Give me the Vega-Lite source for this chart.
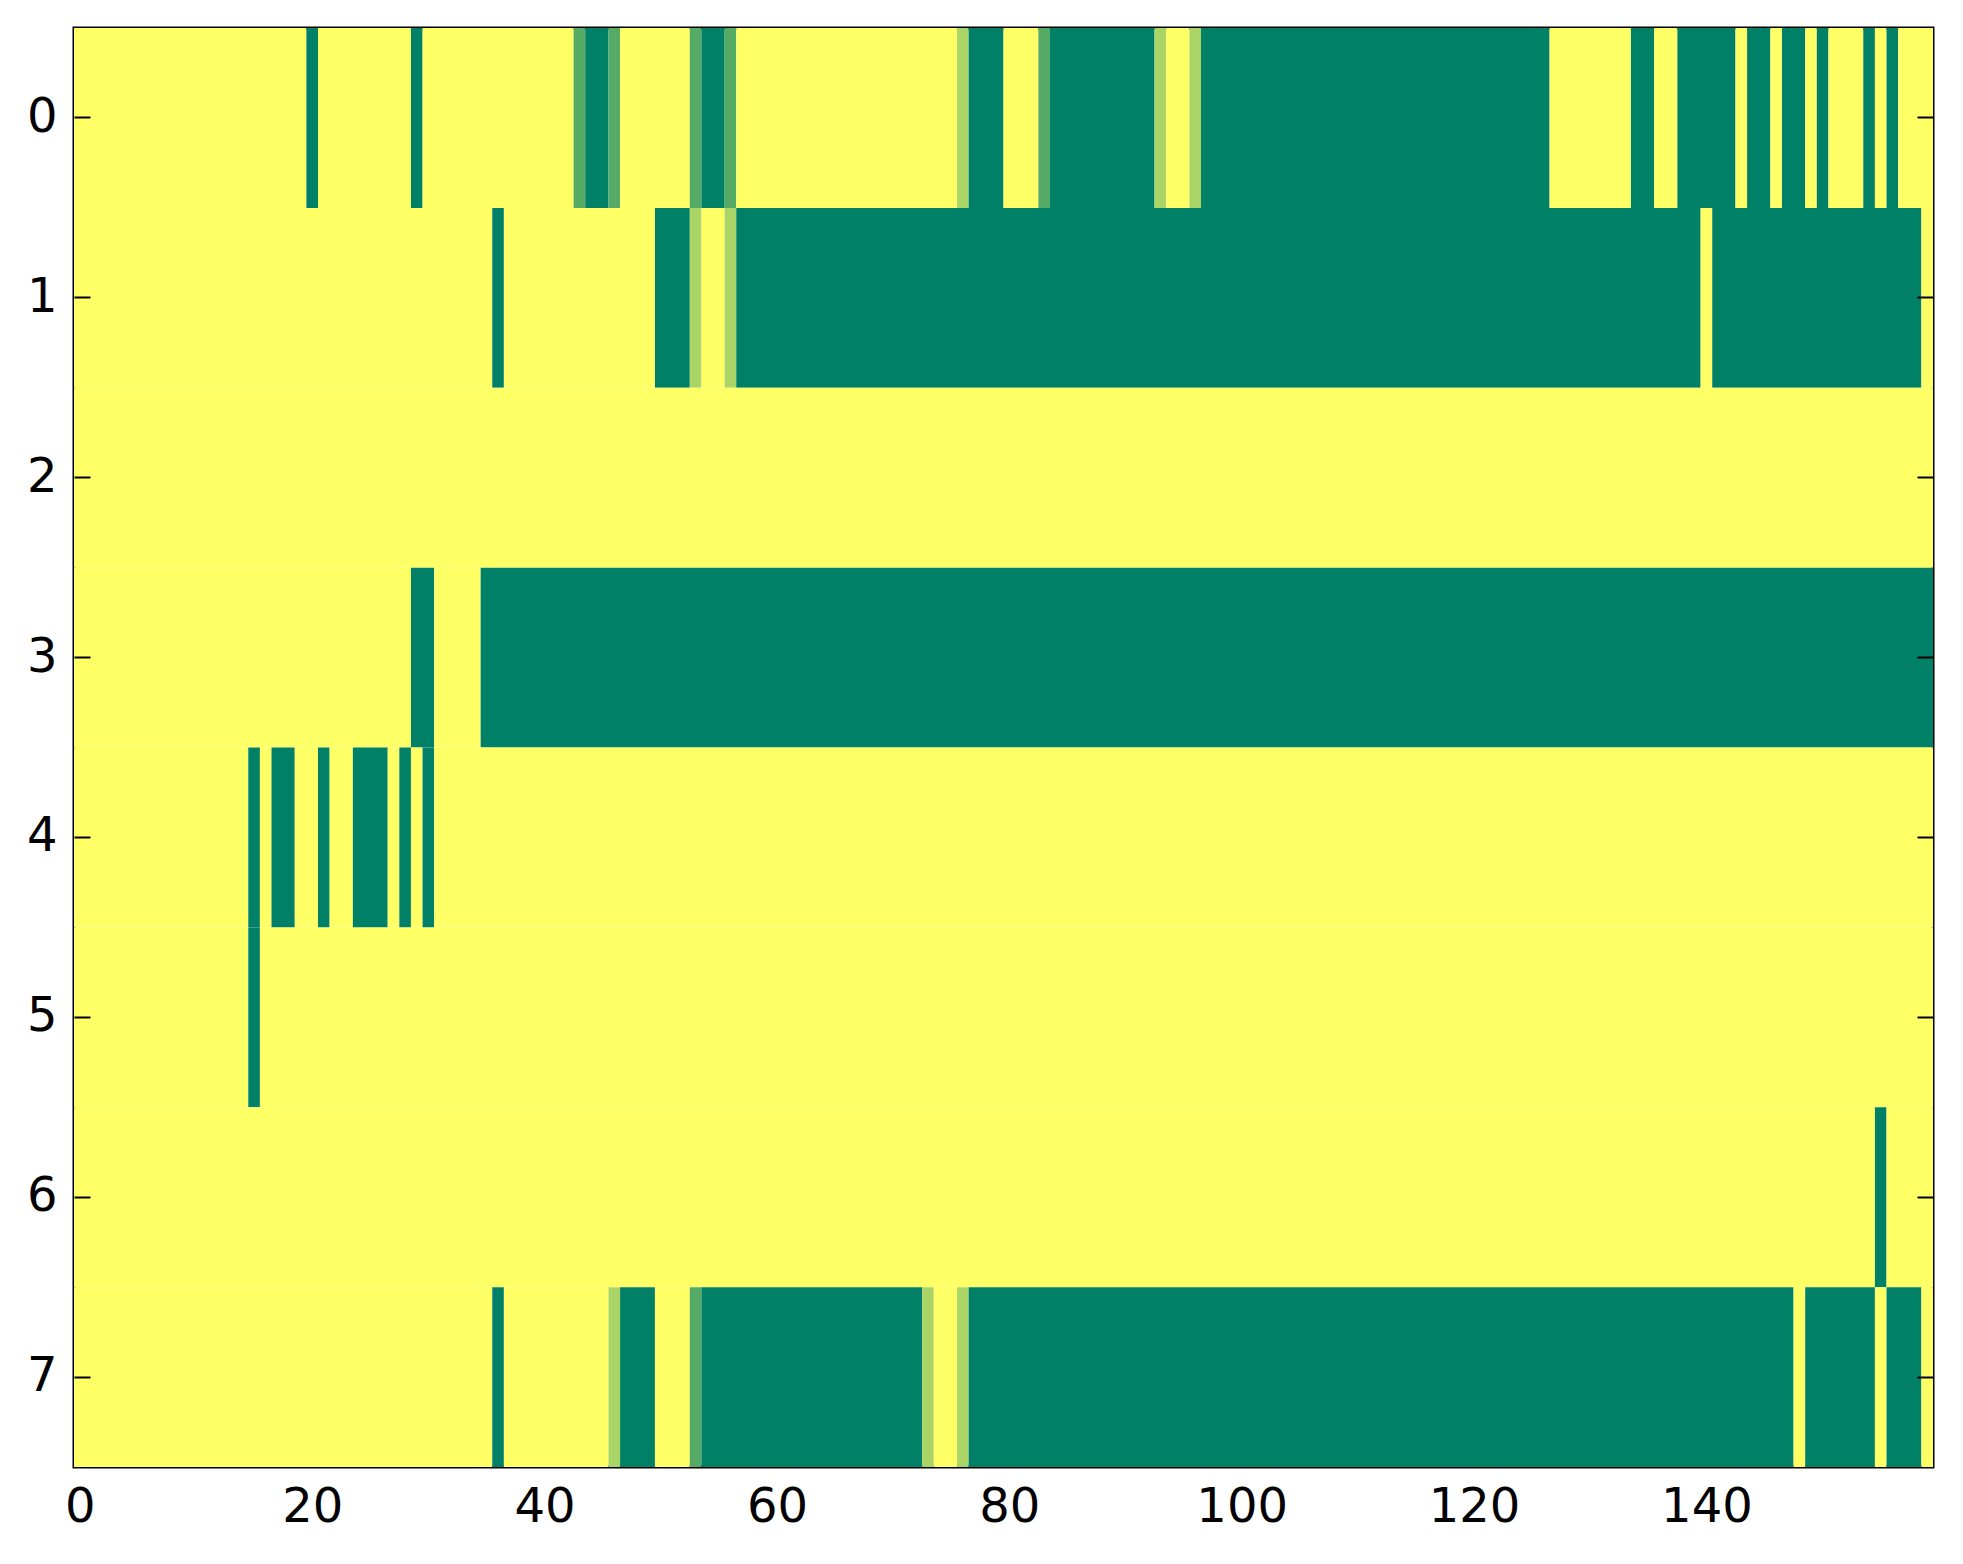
{
  "$schema": "https://vega.github.io/schema/vega-lite/v6.json",
  "width": 1859,
  "height": 1439,
  "autosize": {"type": "none"},
  "padding": {"left": 74, "top": 28, "right": 30, "bottom": 97},
  "background": "white",
  "data": {
    "values": [
      {"row": 0, "x0": -0.5, "x1": 19.5, "v": 1},
      {"row": 0, "x0": 19.5, "x1": 20.5, "v": 0},
      {"row": 0, "x0": 20.5, "x1": 28.5, "v": 1},
      {"row": 0, "x0": 28.5, "x1": 29.5, "v": 0},
      {"row": 0, "x0": 29.5, "x1": 42.5, "v": 1},
      {"row": 0, "x0": 42.5, "x1": 43.5, "v": 0.333},
      {"row": 0, "x0": 43.5, "x1": 45.5, "v": 0},
      {"row": 0, "x0": 45.5, "x1": 46.5, "v": 0.333},
      {"row": 0, "x0": 46.5, "x1": 52.5, "v": 1},
      {"row": 0, "x0": 52.5, "x1": 53.5, "v": 0.333},
      {"row": 0, "x0": 53.5, "x1": 55.5, "v": 0},
      {"row": 0, "x0": 55.5, "x1": 56.5, "v": 0.333},
      {"row": 0, "x0": 56.5, "x1": 75.5, "v": 1},
      {"row": 0, "x0": 75.5, "x1": 76.5, "v": 0.667},
      {"row": 0, "x0": 76.5, "x1": 79.5, "v": 0},
      {"row": 0, "x0": 79.5, "x1": 82.5, "v": 1},
      {"row": 0, "x0": 82.5, "x1": 83.5, "v": 0.333},
      {"row": 0, "x0": 83.5, "x1": 92.5, "v": 0},
      {"row": 0, "x0": 92.5, "x1": 93.5, "v": 0.667},
      {"row": 0, "x0": 93.5, "x1": 95.5, "v": 1},
      {"row": 0, "x0": 95.5, "x1": 96.5, "v": 0.667},
      {"row": 0, "x0": 96.5, "x1": 126.5, "v": 0},
      {"row": 0, "x0": 126.5, "x1": 133.5, "v": 1},
      {"row": 0, "x0": 133.5, "x1": 135.5, "v": 0},
      {"row": 0, "x0": 135.5, "x1": 137.5, "v": 1},
      {"row": 0, "x0": 137.5, "x1": 142.5, "v": 0},
      {"row": 0, "x0": 142.5, "x1": 143.5, "v": 1},
      {"row": 0, "x0": 143.5, "x1": 145.5, "v": 0},
      {"row": 0, "x0": 145.5, "x1": 146.5, "v": 1},
      {"row": 0, "x0": 146.5, "x1": 148.5, "v": 0},
      {"row": 0, "x0": 148.5, "x1": 149.5, "v": 1},
      {"row": 0, "x0": 149.5, "x1": 150.5, "v": 0},
      {"row": 0, "x0": 150.5, "x1": 153.5, "v": 1},
      {"row": 0, "x0": 153.5, "x1": 154.5, "v": 0},
      {"row": 0, "x0": 154.5, "x1": 155.5, "v": 1},
      {"row": 0, "x0": 155.5, "x1": 156.5, "v": 0},
      {"row": 0, "x0": 156.5, "x1": 159.5, "v": 1},

      {"row": 1, "x0": -0.5, "x1": 35.5, "v": 1},
      {"row": 1, "x0": 35.5, "x1": 36.5, "v": 0},
      {"row": 1, "x0": 36.5, "x1": 49.5, "v": 1},
      {"row": 1, "x0": 49.5, "x1": 52.5, "v": 0},
      {"row": 1, "x0": 52.5, "x1": 53.5, "v": 0.667},
      {"row": 1, "x0": 53.5, "x1": 55.5, "v": 1},
      {"row": 1, "x0": 55.5, "x1": 56.5, "v": 0.667},
      {"row": 1, "x0": 56.5, "x1": 139.5, "v": 0},
      {"row": 1, "x0": 139.5, "x1": 140.5, "v": 1},
      {"row": 1, "x0": 140.5, "x1": 158.5, "v": 0},
      {"row": 1, "x0": 158.5, "x1": 159.5, "v": 1},

      {"row": 2, "x0": -0.5, "x1": 159.5, "v": 1},

      {"row": 3, "x0": -0.5, "x1": 28.5, "v": 1},
      {"row": 3, "x0": 28.5, "x1": 30.5, "v": 0},
      {"row": 3, "x0": 30.5, "x1": 34.5, "v": 1},
      {"row": 3, "x0": 34.5, "x1": 159.5, "v": 0},

      {"row": 4, "x0": -0.5, "x1": 14.5, "v": 1},
      {"row": 4, "x0": 14.5, "x1": 15.5, "v": 0},
      {"row": 4, "x0": 15.5, "x1": 16.5, "v": 1},
      {"row": 4, "x0": 16.5, "x1": 18.5, "v": 0},
      {"row": 4, "x0": 18.5, "x1": 20.5, "v": 1},
      {"row": 4, "x0": 20.5, "x1": 21.5, "v": 0},
      {"row": 4, "x0": 21.5, "x1": 23.5, "v": 1},
      {"row": 4, "x0": 23.5, "x1": 26.5, "v": 0},
      {"row": 4, "x0": 26.5, "x1": 27.5, "v": 1},
      {"row": 4, "x0": 27.5, "x1": 28.5, "v": 0},
      {"row": 4, "x0": 28.5, "x1": 29.5, "v": 1},
      {"row": 4, "x0": 29.5, "x1": 30.5, "v": 0},
      {"row": 4, "x0": 30.5, "x1": 159.5, "v": 1},

      {"row": 5, "x0": -0.5, "x1": 14.5, "v": 1},
      {"row": 5, "x0": 14.5, "x1": 15.5, "v": 0},
      {"row": 5, "x0": 15.5, "x1": 159.5, "v": 1},

      {"row": 6, "x0": -0.5, "x1": 154.5, "v": 1},
      {"row": 6, "x0": 154.5, "x1": 155.5, "v": 0},
      {"row": 6, "x0": 155.5, "x1": 159.5, "v": 1},

      {"row": 7, "x0": -0.5, "x1": 35.5, "v": 1},
      {"row": 7, "x0": 35.5, "x1": 36.5, "v": 0},
      {"row": 7, "x0": 36.5, "x1": 45.5, "v": 1},
      {"row": 7, "x0": 45.5, "x1": 46.5, "v": 0.667},
      {"row": 7, "x0": 46.5, "x1": 49.5, "v": 0},
      {"row": 7, "x0": 49.5, "x1": 52.5, "v": 1},
      {"row": 7, "x0": 52.5, "x1": 53.5, "v": 0.333},
      {"row": 7, "x0": 53.5, "x1": 72.5, "v": 0},
      {"row": 7, "x0": 72.5, "x1": 73.5, "v": 0.667},
      {"row": 7, "x0": 73.5, "x1": 75.5, "v": 1},
      {"row": 7, "x0": 75.5, "x1": 76.5, "v": 0.667},
      {"row": 7, "x0": 76.5, "x1": 147.5, "v": 0},
      {"row": 7, "x0": 147.5, "x1": 148.5, "v": 1},
      {"row": 7, "x0": 148.5, "x1": 154.5, "v": 0},
      {"row": 7, "x0": 154.5, "x1": 155.5, "v": 1},
      {"row": 7, "x0": 155.5, "x1": 158.5, "v": 0},
      {"row": 7, "x0": 158.5, "x1": 159.5, "v": 1}
    ]
  },
  "layer": [
    {
      "mark": {"type": "rect", "strokeWidth": 0},
      "encoding": {
        "x": {
          "field": "x0",
          "type": "quantitative",
          "scale": {"domain": [-0.5, 159.5], "nice": false, "zero": false},
          "axis": {"orient": "bottom", "values": [0, 20, 40, 60, 80, 100, 120, 140], "labelPadding": 32}
        },
        "x2": {"field": "x1"},
        "y": {
          "field": "row",
          "type": "ordinal",
          "scale": {"type": "band", "paddingInner": 0, "paddingOuter": 0},
          "axis": {"orient": "left", "labelPadding": 33}
        },
        "color": {
          "field": "v",
          "type": "quantitative",
          "scale": {"domain": [0, 1], "range": ["#008066", "#ffff66"], "interpolate": "rgb"},
          "legend": null
        }
      }
    },
    {
      "mark": {"type": "rect", "opacity": 0},
      "encoding": {
        "x": {
          "field": "x0",
          "type": "quantitative",
          "axis": {"orient": "top", "values": [0, 20, 40, 60, 80, 100, 120, 140], "labels": false}
        },
        "x2": {"field": "x1"},
        "y": {
          "field": "row",
          "type": "ordinal",
          "axis": {"orient": "right", "labels": false}
        }
      }
    }
  ],
  "resolve": {"axis": {"x": "independent", "y": "independent"}},
  "config": {
    "view": {"stroke": "black", "strokeWidth": 3},
    "axis": {
      "title": null,
      "grid": false,
      "domain": false,
      "tickSize": -16,
      "tickWidth": 2,
      "tickColor": "black",
      "labelFont": "DejaVu Sans",
      "labelFontSize": 48,
      "labelColor": "black",
      "labelFlush": false,
      "labelOverlap": false,
      "labelAngle": 0
    }
  }
}
